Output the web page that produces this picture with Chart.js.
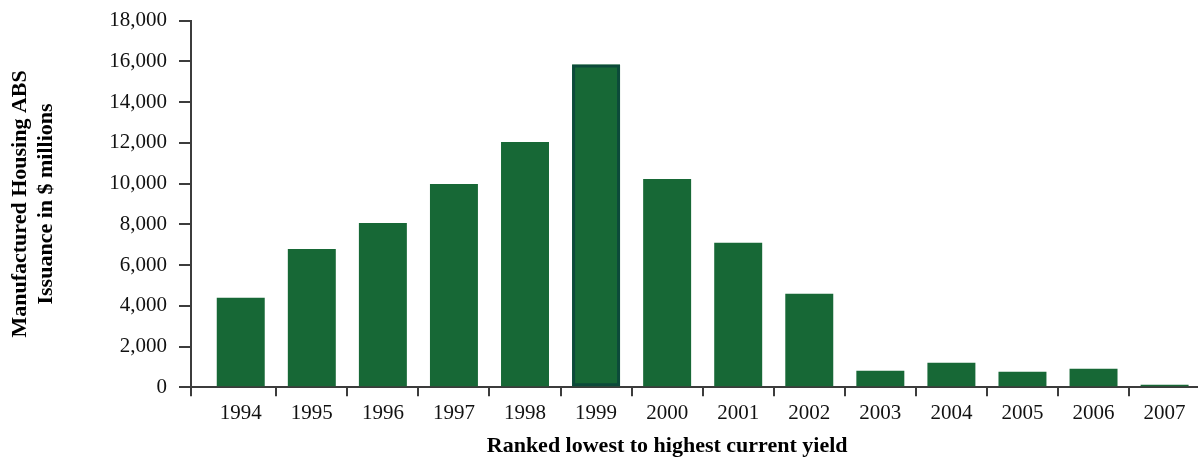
<!DOCTYPE html>
<html>
<head>
<meta charset="utf-8">
<script src="https://cdn.jsdelivr.net/npm/chart.js@4/dist/chart.umd.min.js"></script>
<style>
  html, body { margin: 0; padding: 0; background: #fff; }
  #wrap { width: 1198px; height: 457px; }
</style>
</head>
<body>
<div id="wrap"><canvas id="c" width="1198" height="457"></canvas></div>
<script>
// Annual manufactured housing ABS issuance, $ millions
const years = [1994, 1995, 1996, 1997, 1998, 1999, 2000, 2001, 2002, 2003, 2004, 2005, 2006, 2007];
const issuance = [4390, 6790, 8070, 9980, 12040, 15850, 10230, 7090, 4590, 810, 1200, 760, 910, 120];
const yTickValues = [0, 2000, 4000, 6000, 8000, 10000, 12000, 14000, 16000, 18000];
const highlightYear = 1999;
const yTitle = ['Manufactured Housing ABS', 'Issuance in $ millions'];
const xTitle = 'Ranked lowest to highest current yield';

const BAR_GREEN = '#176836';
const OUTLINE = '#0c4a3a';
const AXIS = '#3c3c3c';
const SERIF = '"Liberation Serif", "Times New Roman", serif';

const X_MIN = 1993.3;
const X_MAX = 2007.47;

// x-axis title sits centred under the 2000 column
const xTitlePlugin = {
  id: 'xTitle',
  afterDraw(chart) {
    const { ctx } = chart;
    const xs = chart.scales.x;
    ctx.save();
    ctx.font = 'bold 22px ' + SERIF;
    ctx.fillStyle = '#000';
    ctx.textAlign = 'center';
    ctx.textBaseline = 'alphabetic';
    ctx.fillText(xTitle, xs.getPixelForValue(2000), chart.height - 5);
    ctx.restore();
  }
};

const points = years.map((yr, i) => ({ x: yr, y: issuance[i] }));

new Chart(document.getElementById('c'), {
  type: 'bar',
  data: {
    datasets: [
      {
        // outline ring around the peak year, drawn over the filled column
        data: points.map(p => p.x === highlightYear ? p : { x: p.x, y: null }),
        backgroundColor: 'rgba(0,0,0,0)',
        borderColor: OUTLINE,
        borderWidth: 3,
        borderSkipped: false,
        barPercentage: 0.675,
        categoryPercentage: 2.0,
        order: 0
      },
      {
        data: points,
        backgroundColor: BAR_GREEN,
        borderWidth: 0,
        // the tick list holds half-year steps, so the sample gap is half a column
        barPercentage: 0.675,
        categoryPercentage: 2.0,
        order: 1
      }
    ]
  },
  options: {
    responsive: false,
    animation: false,
    datasets: { bar: { grouped: false } },
    layout: { padding: { top: 13, right: 0, bottom: 26.5, left: 0 } },
    plugins: { legend: { display: false }, tooltip: { enabled: false } },
    scales: {
      x: {
        type: 'linear',
        offset: false,
        min: X_MIN,
        max: X_MAX,
        afterBuildTicks(scale) {
          // year labels at integers, tick marks between columns
          const t = [{ value: X_MIN }];
          years.forEach((yr, i) => {
            t.push({ value: yr });
            if (i < years.length - 1) t.push({ value: yr + 0.5 });
          });
          scale.ticks = t;
        },
        ticks: {
          autoSkip: false,
          maxRotation: 0,
          padding: 4.5,
          color: '#111',
          font: { family: SERIF, size: 21 },
          callback: v => Number.isInteger(v) ? String(v) : ''
        },
        grid: {
          offset: false,
          drawOnChartArea: false,
          drawTicks: true,
          tickLength: 9,
          lineWidth: 2,
          color: ctx => (ctx.tick && Number.isInteger(ctx.tick.value)) ? 'rgba(0,0,0,0)' : AXIS
        },
        border: { display: true, color: AXIS, width: 2 }
      },
      y: {
        min: 0,
        max: 18000,
        afterBuildTicks(scale) {
          scale.ticks = yTickValues.map(v => ({ value: v }));
        },
        afterFit(scale) { scale.width = 191; },
        ticks: {
          padding: 12,
          color: '#111',
          font: { family: SERIF, size: 21, lineHeight: 0.82 },
          callback: v => v.toLocaleString('en-US')
        },
        grid: {
          drawOnChartArea: false,
          drawTicks: true,
          tickLength: 12,
          lineWidth: 2,
          color: AXIS
        },
        border: { display: true, color: AXIS, width: 2 },
        title: {
          display: true,
          text: yTitle,
          color: '#000',
          font: { family: SERIF, size: 22, weight: 'bold', lineHeight: 1.2 },
          padding: { top: 7, bottom: 0 }
        }
      }
    }
  },
  plugins: [xTitlePlugin]
});
</script>
</body>
</html>
